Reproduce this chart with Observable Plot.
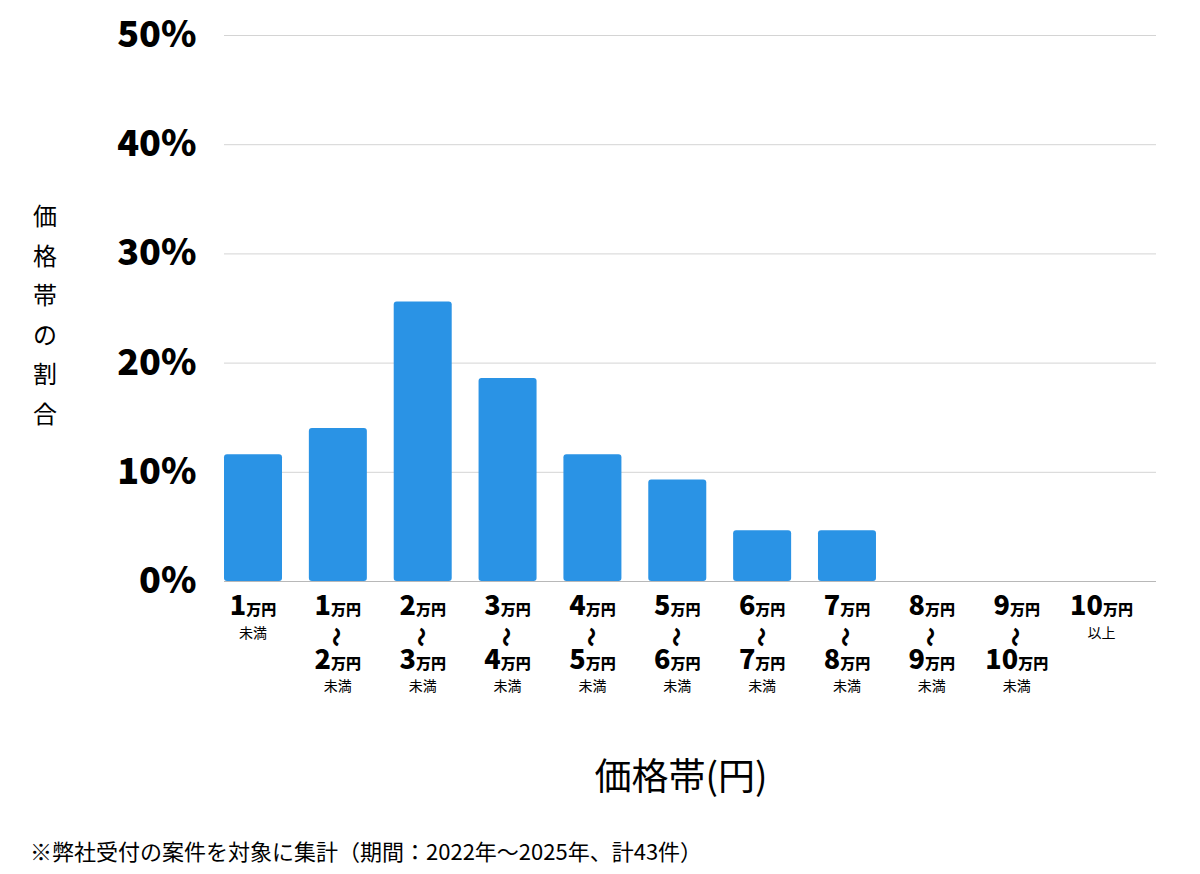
<!DOCTYPE html>
<html>
<head>
<meta charset="utf-8">
<script src="https://cdn.jsdelivr.net/npm/d3@7"></script>
<script src="https://cdn.jsdelivr.net/npm/@observablehq/plot@0.6"></script>
<style>
  html, body { margin: 0; padding: 0; background: #fff; }
  svg { display: block; }
</style>
</head>
<body>
<div id="chart"></div>
<script>
// ---- data ----
const categories = ["1万円未満", "1〜2万円", "2〜3万円", "3〜4万円", "4〜5万円", "5〜6万円", "6〜7万円", "7〜8万円", "8〜9万円", "9〜10万円", "10万円以上"];
const shares = [11.6, 14.0, 25.6, 18.6, 11.6, 9.3, 4.65, 4.65, 0, 0, 0];
const lowerLabels = ["1", "1", "2", "3", "4", "5", "6", "7", "8", "9", "10"];
const upperLabels = [null, "2", "3", "4", "5", "6", "7", "8", "9", "10", null];
const singleNotes = ["未満", null, null, null, null, null, null, null, null, null, "以上"];
const yTicks = [0, 10, 20, 30, 40, 50];
const unitText = "万円";
const rangeNote = "未満";
const yTitle = "価格帯の割合";
const xTitle = "価格帯(円)";
const caption = "※弊社受付の案件を対象に集計（期間：2022年〜2025年、計43件）";

const data = categories.map((c, i) => ({category: c, share: shares[i]}));
const FONT = "'Noto Sans CJK JP', 'Noto Sans', sans-serif";

const chart = Plot.plot({
  width: 1200,
  height: 874,
  marginTop: 35,
  marginLeft: 224,
  marginRight: 44,
  marginBottom: 293,
  style: {fontFamily: FONT, background: "#fff", color: "#000"},
  x: {domain: categories, paddingInner: 0.3165, paddingOuter: 0.15, align: 0, round: false, axis: null},
  y: {domain: [0, 50], label: null},
  marks: [
    Plot.gridY(yTicks.filter(d => d > 0), {stroke: "#d4d4d4", strokeOpacity: 1, strokeWidth: 1}),
    Plot.axisY(yTicks, {tickSize: 0, tickPadding: 28, tickFormat: d => d + "%", fontSize: 36, fontWeight: 900, fill: "#000", label: null}),
    Plot.barY(data, {x: "category", y: "share", fill: "#2a93e5", rx: 3}),
    Plot.ruleY([0], {stroke: "#b8b8b8", strokeWidth: 1})
  ]
});

document.getElementById("chart").appendChild(chart);

// ---- custom multi-line x tick labels using Plot's scales ----
const xs = chart.scale("x");
const ys = chart.scale("y");
const svg = d3.select(chart);
const y0 = ys.apply(0);
const g = svg.append("g").attr("font-family", FONT).attr("fill", "#000").attr("text-anchor", "middle");

function priceLine(parent, cx, baseline, num) {
  const t = parent.append("text").attr("x", cx).attr("y", baseline).attr("font-weight", 900);
  t.append("tspan").attr("font-size", 27).text(num);
  t.append("tspan").attr("font-size", 15).text(unitText);
}

categories.forEach((c, i) => {
  const cx = xs.apply(c) + xs.bandwidth / 2;
  priceLine(g, cx, y0 + 34, lowerLabels[i]);
  if (upperLabels[i]) {
    g.append("text")
      .attr("transform", `translate(${cx},${y0 + 56}) rotate(90)`)
      .attr("dominant-baseline", "central")
      .attr("font-size", 20).attr("font-weight", 900)
      .text("〜");
    priceLine(g, cx, y0 + 88, upperLabels[i]);
    g.append("text").attr("x", cx).attr("y", y0 + 110).attr("font-size", 14).text(rangeNote);
  } else if (singleNotes[i]) {
    g.append("text").attr("x", cx).attr("y", y0 + 57).attr("font-size", 14).text(singleNotes[i]);
  }
});

// ---- titles ----
const yt = svg.append("text").attr("font-family", FONT).attr("font-size", 24).attr("text-anchor", "middle").attr("fill", "#000");
Array.from(yTitle).forEach((ch, i) => {
  yt.append("tspan").attr("x", 45).attr("y", 225 + i * 39.5).text(ch);
});

svg.append("text").attr("font-family", FONT).attr("font-size", 37)
  .attr("x", 681).attr("y", 790).attr("text-anchor", "middle").attr("fill", "#000").text(xTitle);

svg.append("text").attr("font-family", FONT).attr("font-size", 22)
  .attr("x", 30).attr("y", 860).attr("text-anchor", "start").attr("fill", "#000").text(caption);
</script>
</body>
</html>
